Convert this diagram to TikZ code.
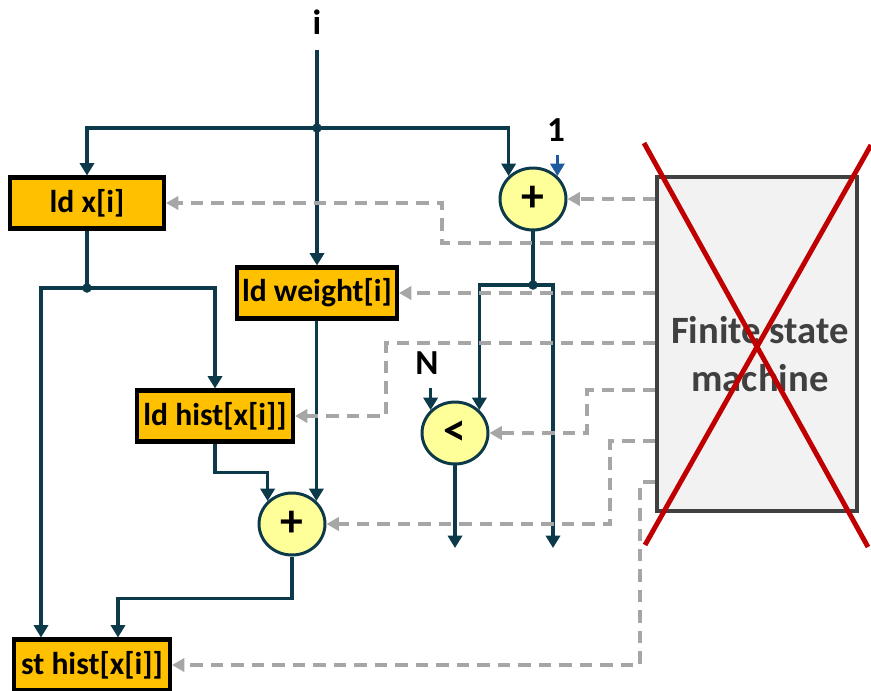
\documentclass[tikz,border=0pt]{standalone}
\usepackage{fontspec}
\setmainfont{Carlito}
\usetikzlibrary{shapes.geometric,arrows.meta,positioning,calc}

\definecolor{wirecol}{HTML}{0C3A4A}
\definecolor{opfill}{HTML}{FFC000}
\definecolor{addfill}{HTML}{FFFF99}
\definecolor{ctrlcol}{HTML}{A6A6A6}
\definecolor{fsmfill}{HTML}{F2F2F2}
\definecolor{fsmline}{HTML}{404040}
\definecolor{crosscol}{HTML}{C00000}
\definecolor{onecol}{HTML}{1F5A9E}

\begin{document}
\begin{tikzpicture}[x=0.02cm, y=-0.02cm,
    font=\fontsize{18}{20}\selectfont\bfseries,
    wire/.style={draw=wirecol, line width=2pt, -{Triangle[width=8pt,length=7pt]}},
    plain/.style={draw=wirecol, line width=2pt},
    ctrl/.style={draw=ctrlcol, line width=1.8pt, dash pattern=on 0.25cm off 0.16cm,
        -{Triangle[width=7.5pt,length=7pt]}},
    opbox/.style={draw=black, line width=2.3pt, fill=opfill, inner sep=0pt,
        minimum height=1.02cm},
    adder/.style={ellipse, draw=wirecol, line width=1.7pt, fill=addfill, inner sep=0pt,
        minimum width=1.32cm, minimum height=1.24cm, font=\fontsize{26}{26}\selectfont\bfseries},
    dot/.style={circle, fill=wirecol, inner sep=0pt, minimum size=0.19cm},
    lbl/.style={font=\fontsize{20}{20}\selectfont\bfseries},
    cross/.style={draw=crosscol, line width=2.8pt}]

\useasboundingbox (0,0) rectangle (871,690);

% operations
\node[opbox, minimum width=3.08cm] (ldx) at (87,203) {ld x[i]};
\node[opbox, minimum width=3.2cm] (ldw) at (317,293) {ld weight[i]};
\node[opbox, minimum width=3.12cm] (ldhist) at (215,416) {ld hist[x[i]]};
\node[opbox, minimum width=3.12cm] (sthist) at (92,665) {st hist[x[i]]};
\node[adder] (addi) at (533,199) {+};
\node[adder] (lt) at (455,433) {<};
\node[adder] (addh) at (292,524) {+};

% finite state machine
\node[draw=fsmline, line width=2.3pt, fill=fsmfill, minimum width=4cm, minimum height=6.68cm]
    (fsm) at (757,344) {};
\node[align=center, text=fsmline, font=\fontsize{22}{27}\selectfont\bfseries] (fsmtext)
    at (760,354) {Finite state\\machine};

% labels
\node[lbl] (ilab) at (317,22) {i};
\node[lbl] (onelab) at (556,130) {1};
\node[lbl] (nlab) at (427,363) {N};

% data path
\coordinate (itop) at (317,50);
\coordinate (jtop) at (317,128);
\coordinate (jx) at (87,288);
\coordinate (jadd) at (533,285);
\coordinate (outa) at (455,548);
\coordinate (outb) at (553,548);

\draw[plain] (itop) -- (jtop);
\draw[wire] (jtop) -| (ldx.north);
\draw[wire] (jtop) -| (addi.north west);
\draw[wire] (jtop) -- (ldw.north);
\draw[plain] (ldx.south) -- (jx);
\draw[wire] (jx) -| ($(sthist.north)+(-51,0)$);
\draw[wire] (jx) -| (ldhist.north);
\draw[wire] (ldw.south -| addh.north east) -- (addh.north east);
\draw[wire] (ldhist.south) -- ++(0,29) -| (addh.north west);
\draw[wire] (addh.south) -- ++(0,42) -| ($(sthist.north)+(26,0)$);
\draw[plain] (addi.south) -- (jadd);
\draw[wire] (jadd) -| (lt.north east);
\draw[wire] (jadd) -| (outb);
\draw[wire] (lt.south) -- (outa);
\draw[wire, shorten <=4pt] (nlab.south -| lt.north west) -- (lt.north west);
\draw[wire, draw=onecol, fill=onecol, line width=1.5pt, shorten <=4pt]
    (onelab.south -| addi.north east) -- (addi.north east);
\foreach \j in {jtop, jx, jadd}
    \node[dot] at (\j) {};

% control signals
\draw[ctrl] (fsm.west |- addi.east) -- (addi.east);
\draw[ctrl] (fsm.west |- ldw.east) -- (ldw.east);
\foreach \yy/\xx/\dst in {243/442/ldx, 343/386/ldhist, 390/587/lt, 441/610/addh, 482/640/sthist}
    \draw[ctrl] (fsm.west |- 0,\yy) -- (\xx,\yy) |- (\dst.east);

% crossed out
\draw[cross] (644,143) -- (868,547);
\draw[cross] (871,145) -- (645,545);
\end{tikzpicture}
\end{document}
